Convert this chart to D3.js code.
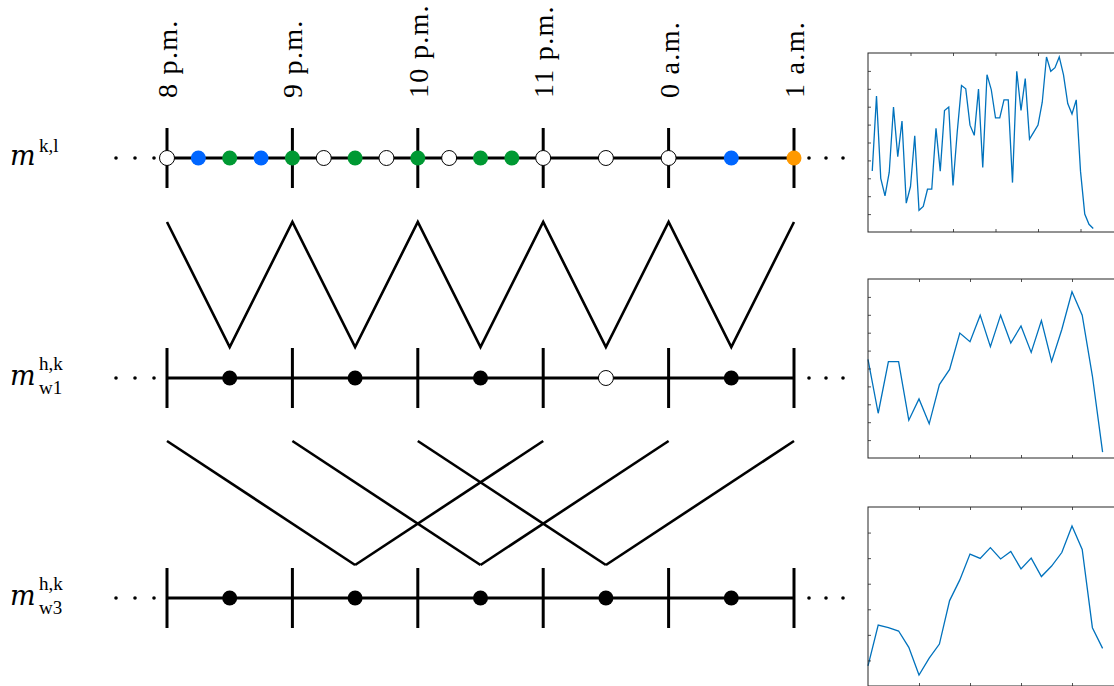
<!DOCTYPE html>
<html>
<head>
<meta charset="utf-8">
<script src="https://cdn.jsdelivr.net/npm/d3@7"></script>
<style>
  body { margin: 0; background: #fff; }
  text { font-family: "Liberation Serif", "Times New Roman", serif; fill: #000; }
</style>
</head>
<body>
<svg id="chart"></svg>
<script>
// time axis
const hourTicks = ['2021-01-01 20:00', '2021-01-01 21:00', '2021-01-01 22:00', '2021-01-01 23:00', '2021-01-02 00:00', '2021-01-02 01:00']
const hourLabels = ['8 p.m.', '9 p.m.', '10 p.m.', '11 p.m.', '0 a.m.', '1 a.m.']

// rows
const rows = ['kl', 'w1', 'w3']
const rowSup = ['k,l', 'h,k', 'h,k']
const rowSub = ['', 'w1', 'w3']

// dots of the top row
const klTimes = ['2021-01-01 20:00', '2021-01-01 20:15', '2021-01-01 20:30', '2021-01-01 20:45', '2021-01-01 21:00', '2021-01-01 21:15', '2021-01-01 21:30', '2021-01-01 21:45', '2021-01-01 22:00', '2021-01-01 22:15', '2021-01-01 22:30', '2021-01-01 22:45', '2021-01-01 23:00', '2021-01-01 23:30', '2021-01-02 00:00', '2021-01-02 00:30', '2021-01-02 01:00']
const klState = ['none', 'blue', 'green', 'blue', 'green', 'none', 'green', 'none', 'green', 'none', 'green', 'green', 'none', 'none', 'none', 'blue', 'orange']

// dots of the window rows
const winTimes = ['2021-01-01 20:30', '2021-01-01 21:30', '2021-01-01 22:30', '2021-01-01 23:30', '2021-01-02 00:30']
const w1State = ['full', 'full', 'full', 'none', 'full']
const w3State = ['full', 'full', 'full', 'full', 'full']

// links between w1 and w3 rows [top time, bottom time]
const crossLinks = [
  ['2021-01-01 20:00', '2021-01-01 21:30'],
  ['2021-01-01 21:00', '2021-01-01 22:30'],
  ['2021-01-01 22:00', '2021-01-01 23:30'],
  ['2021-01-01 23:00', '2021-01-01 21:30'],
  ['2021-01-02 00:00', '2021-01-01 22:30'],
  ['2021-01-02 01:00', '2021-01-01 23:30']
]

// small plots on the right
const series1 = [3.41, 7.59, 3.0, 2.02, 3.34, 6.98, 4.21, 6.2, 1.61, 2.54, 5.38, 1.21, 1.43, 2.39, 2.39, 5.79, 3.4, 6.79, 6.98, 2.6, 5.6, 8.18, 8.0, 5.97, 5.4, 7.98, 3.6, 8.79, 7.96, 6.38, 6.38, 7.38, 7.38, 2.76, 8.98, 6.79, 8.57, 5.19, 5.58, 5.97, 7.25, 9.78, 8.98, 9.18, 9.78, 8.78, 7.18, 6.59, 7.38, 3.4, 1.0, 0.43, 0.2]
const series2 = [5.51, 2.5, 5.38, 5.38, 2.11, 3.3, 1.91, 4.1, 4.95, 6.98, 6.5, 7.98, 6.22, 7.98, 6.42, 7.38, 5.9, 7.68, 5.4, 7.18, 9.29, 7.98, 4.58, 0.33]
const series3 = [0.79, 2.38, 2.28, 2.15, 1.51, 0.43, 1.09, 1.64, 3.34, 4.15, 5.16, 4.99, 5.41, 4.97, 5.26, 4.58, 5.0, 4.28, 4.69, 5.22, 6.26, 5.34, 2.28, 1.47]

const parse = d3.timeParse('%Y-%m-%d %H:%M')
const colors = { none: '#fff', blue: '#0066ff', green: '#009933', orange: '#ff9900', full: '#000' }
const dimensions = { width: 1114, height: 686 }

const svg = d3.select('#chart')
  .attr('width', dimensions.width)
  .attr('height', dimensions.height)

const x = d3.scaleTime()
  .domain([parse(hourTicks[0]), parse(hourTicks[hourTicks.length - 1])])
  .range([167, 794])

const y = d3.scalePoint()
  .domain(rows)
  .range([158, 598])

// hour labels
svg.selectAll('.hour')
  .data(hourTicks)
  .enter().append('text')
  .attr('transform', d => 'translate(' + (x(parse(d)) + 10) + ',98) rotate(-90)')
  .attr('font-size', 28)
  .attr('letter-spacing', 1.3)
  .text((d, i) => hourLabels[i])

// zigzag between top row and w1 row
const zig = hourTicks.map(t => ({ t: t, top: true }))
  .concat(winTimes.map(t => ({ t: t, top: false })))
  .sort((a, b) => parse(a.t) - parse(b.t))

svg.append('path')
  .datum(zig)
  .attr('d', d3.line()
    .x(d => x(parse(d.t)))
    .y(d => d.top ? y('kl') + 64 : y('w1') - 31))
  .attr('fill', 'none')
  .attr('stroke', '#000')
  .attr('stroke-width', 2.6)

// crossing links between w1 and w3
svg.selectAll('.cross')
  .data(crossLinks)
  .enter().append('line')
  .attr('x1', d => x(parse(d[0])))
  .attr('y1', y('w1') + 63)
  .attr('x2', d => x(parse(d[1])))
  .attr('y2', y('w3') - 33)
  .attr('stroke', '#000')
  .attr('stroke-width', 2.6)

rows.forEach((r, ri) => {
  const g = svg.append('g')
  const ry = y(r)

  g.append('line')
    .attr('x1', x(parse(hourTicks[0])))
    .attr('x2', x(parse(hourTicks[hourTicks.length - 1])))
    .attr('y1', ry).attr('y2', ry)
    .attr('stroke', '#000')
    .attr('stroke-width', 3)

  g.selectAll('.tick')
    .data(hourTicks)
    .enter().append('line')
    .attr('x1', d => x(parse(d)))
    .attr('x2', d => x(parse(d)))
    .attr('y1', ry - 30)
    .attr('y2', ry + 30)
    .attr('stroke', '#000')
    .attr('stroke-width', 3)

  // ellipsis dots on both sides
  const x0 = x(parse(hourTicks[0]))
  const x1 = x(parse(hourTicks[hourTicks.length - 1]))
  g.selectAll('.ell')
    .data([0, 1, 2])
    .enter().append('circle')
    .attr('cx', d => x0 - 13 - 19 * d)
    .attr('cy', ry)
    .attr('r', 1.8)
    .attr('fill', '#000')
  g.selectAll('.elr')
    .data([0, 1, 2])
    .enter().append('circle')
    .attr('cx', d => x1 + 15 + 17 * d)
    .attr('cy', ry)
    .attr('r', 1.8)
    .attr('fill', '#000')

  const times = r === 'kl' ? klTimes : winTimes
  const state = r === 'kl' ? klState : (r === 'w1' ? w1State : w3State)
  g.selectAll('.dot')
    .data(times)
    .enter().append('circle')
    .attr('cx', d => x(parse(d)))
    .attr('cy', ry)
    .attr('r', 7.5)
    .attr('fill', (d, i) => colors[state[i]])
    .attr('stroke', (d, i) => state[i] === 'none' ? '#000' : 'none')
    .attr('stroke-width', 1)

  // row label
  g.append('text')
    .attr('x', 10)
    .attr('y', ry + 7)
    .attr('font-size', 27)
    .attr('font-style', 'italic')
    .style('font-family', '"DejaVu Serif", serif')
    .text('m')
  g.append('text')
    .attr('x', 39)
    .attr('y', ry - (rowSub[ri] ? 8 : 6))
    .attr('font-size', 19)
    .text(rowSup[ri])
  if (rowSub[ri]) {
    g.append('text')
      .attr('x', 39)
      .attr('y', ry + 16)
      .attr('font-size', 19)
      .text(rowSub[ri])
  }
})

// small line plots
const plots = [
  { data: series1, top: 53, xmax: 60, xticks: [10, 20, 30, 40, 50], ymax: 10, start: 1 },
  { data: series2, top: 279, xmax: 25, xticks: [5, 10, 15, 20], ymax: 10, start: 0 },
  { data: series3, top: 507, xmax: 25, xticks: [5, 10, 15, 20], ymax: 7, start: 0 }
]
const pw = 255, ph = 179

plots.forEach(p => {
  const g = svg.append('g').attr('transform', 'translate(868,' + p.top + ')')
  const px = d3.scaleLinear().domain([0, p.xmax]).range([0, pw])
  const py = d3.scaleLinear().domain([0, p.ymax]).range([ph, 0])

  g.append('path')
    .datum(p.data)
    .attr('d', d3.line()
      .x((d, i) => px(i + p.start))
      .y(d => py(d)))
    .attr('fill', 'none')
    .attr('stroke', '#0072bd')
    .attr('stroke-width', 1.3)

  const yt = d3.range(1, p.ymax)
  g.append('g').call(d3.axisLeft(py).tickValues(yt).tickSize(-3).tickFormat(''))
  g.append('g').call(d3.axisTop(px).tickValues(p.xticks).tickSize(-3).tickFormat(''))
  g.append('g').attr('transform', 'translate(0,' + ph + ')')
    .call(d3.axisBottom(px).tickValues(p.xticks).tickSize(-3).tickFormat(''))
  g.selectAll('.domain').remove()
  g.selectAll('.tick line').attr('stroke', '#262626').attr('stroke-width', 0.8)

  g.append('rect')
    .attr('x', 0).attr('y', 0)
    .attr('width', pw).attr('height', ph)
    .attr('fill', 'none')
    .attr('stroke', '#262626')
    .attr('stroke-width', 1)
})
</script>
</body>
</html>
